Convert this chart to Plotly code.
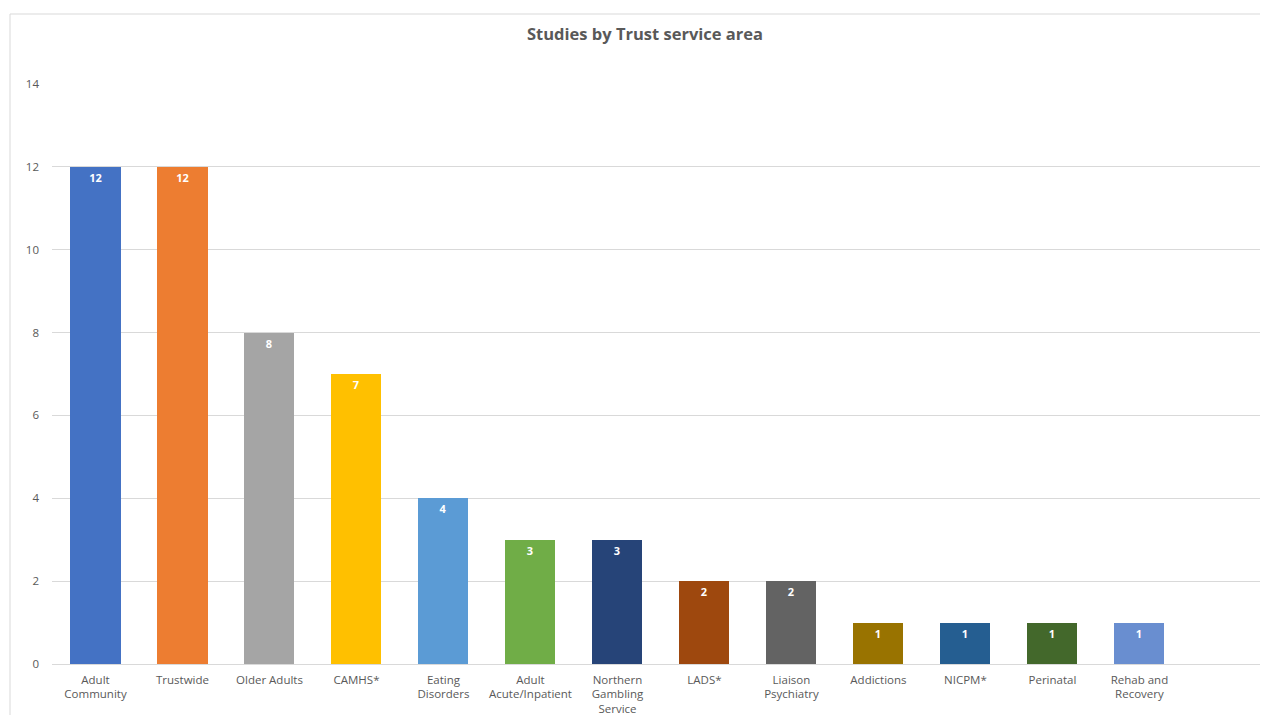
import plotly.graph_objects as go

categories = ["Adult<br>Community", "Trustwide", "Older Adults", "CAMHS*", "Eating<br>Disorders",
              "Adult<br>Acute/Inpatient", "Northern<br>Gambling<br>Service", "LADS*", "Liaison<br>Psychiatry",
              "Addictions", "NICPM*", "Perinatal", "Rehab and<br>Recovery"]
values = [12, 12, 8, 7, 4, 3, 3, 2, 2, 1, 1, 1, 1]
colors = ["#4472C4", "#ED7D31", "#A5A5A5", "#FFC000", "#5B9BD5", "#70AD47", "#264478",
          "#9E480E", "#636363", "#997300", "#255E91", "#43682B", "#698ED0"]
y_ticks = [0, 2, 4, 6, 8, 10, 12, 14]

FONT = "Open Sans"
W, H = 1268, 707
L, R, T, B = 44, 0, 76, 51
PW, PH = W - L - R, H - T - B

fig = go.Figure(go.Bar(
    x=list(range(len(categories))),
    y=values,
    marker=dict(color=colors, line=dict(width=0)),
    width=0.575,
    text=[str(v) for v in values],
    textposition="inside",
    insidetextanchor="end",
    textangle=0,
    textfont=dict(family=FONT, size=11, color="white", weight="bold"),
    cliponaxis=False,
))

fig.update_layout(
    width=W, height=H,
    margin=dict(l=L, r=R, t=T, b=B),
    paper_bgcolor="white", plot_bgcolor="white",
    showlegend=False,
    title=dict(text="<b>Studies by Trust service area</b>", x=637 / W, xanchor="center",
               y=1 - 26 / H, yanchor="middle",
               font=dict(family=FONT, size=16.5, color="#595959")),
    xaxis=dict(tickmode="array", tickvals=list(range(len(categories))), ticktext=categories,
               range=[-0.5, 13.57], showgrid=False, zeroline=False,
               showline=False, ticks="", ticklabelstandoff=7,
               tickfont=dict(family=FONT, size=11.5, color="#595959")),
    yaxis=dict(range=[0, 14], tickvals=y_ticks, showgrid=True, gridcolor="#D9D9D9",
               gridwidth=1, zeroline=True, zerolinecolor="#D9D9D9", zerolinewidth=1,
               showline=False, ticks="", ticklabelstandoff=12,
               tickfont=dict(family=FONT, size=11.5, color="#595959")),
    bargap=0,
)

fig.add_shape(type="rect", xref="paper", yref="paper",
              x0=(2 - L) / PW, x1=1.05, y0=-0.2, y1=1 + (T - 6) / PH,
              line=dict(color="#D9D9D9", width=1), fillcolor="rgba(0,0,0,0)", layer="below")

fig.write_html("out.html")
